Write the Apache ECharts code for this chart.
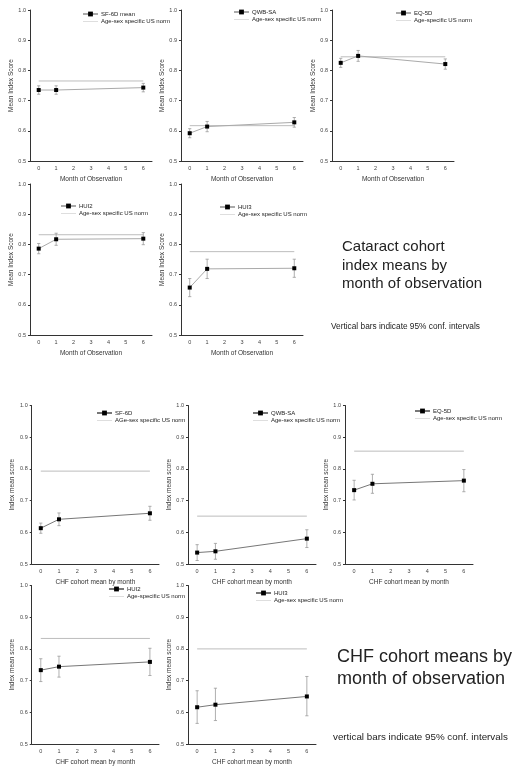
<!DOCTYPE html>
<html><head><meta charset="utf-8">
<script src="https://cdn.jsdelivr.net/npm/echarts@6/dist/echarts.min.js"></script>
<style>html,body{margin:0;padding:0;background:#fff;}#c{width:524px;height:772px;}</style>
</head><body><div id="c"></div>
<script>
// ---------- data ----------
const monthLabels = ['0', '1', '2', '3', '4', '5', '6'];
const obsMonths = ['0', '1', '6'];

// Cataract cohort
const catSF6DMean = [0.735, 0.735, 0.743];
const catSF6DLow  = [0.721, 0.721, 0.729];
const catSF6DHigh = [0.749, 0.749, 0.757];
const catSF6DNorm = 0.765;

const catQWBMean = [0.592, 0.614, 0.628];
const catQWBLow  = [0.577, 0.597, 0.612];
const catQWBHigh = [0.607, 0.631, 0.644];
const catQWBNorm = 0.617;

const catEQ5DMean = [0.825, 0.848, 0.821];
const catEQ5DLow  = [0.810, 0.830, 0.804];
const catEQ5DHigh = [0.840, 0.866, 0.838];
const catEQ5DNorm = 0.845;

const catHUI2Mean = [0.786, 0.817, 0.819];
const catHUI2Low  = [0.769, 0.797, 0.799];
const catHUI2High = [0.803, 0.837, 0.839];
const catHUI2Norm = 0.832;

const catHUI3Mean = [0.657, 0.719, 0.721];
const catHUI3Low  = [0.627, 0.687, 0.691];
const catHUI3High = [0.687, 0.751, 0.751];
const catHUI3Norm = 0.776;

// CHF cohort
const chfSF6DMean = [0.613, 0.641, 0.660];
const chfSF6DLow  = [0.597, 0.621, 0.638];
const chfSF6DHigh = [0.629, 0.661, 0.682];
const chfSF6DNorm = 0.793;

const chfQWBMean = [0.536, 0.540, 0.580];
const chfQWBLow  = [0.511, 0.515, 0.552];
const chfQWBHigh = [0.561, 0.565, 0.608];
const chfQWBNorm = 0.651;

const chfEQ5DMean = [0.733, 0.753, 0.763];
const chfEQ5DLow  = [0.702, 0.723, 0.728];
const chfEQ5DHigh = [0.764, 0.783, 0.798];
const chfEQ5DNorm = 0.856;

const chfHUI2Mean = [0.733, 0.744, 0.759];
const chfHUI2Low  = [0.697, 0.711, 0.716];
const chfHUI2High = [0.769, 0.777, 0.802];
const chfHUI2Norm = 0.833;

const chfHUI3Mean = [0.616, 0.624, 0.650];
const chfHUI3Low  = [0.565, 0.574, 0.589];
const chfHUI3High = [0.668, 0.676, 0.713];
const chfHUI3Norm = 0.800;

const yTickMin = 0.5, yTickMax = 1.0, yTickStep = 0.1;

// ---------- panels ----------
const panels = [
  {name:'SF-6D mean', norm:'Age-sex specific US norm', mean:catSF6DMean, low:catSF6DLow, high:catSF6DHigh, nv:catSF6DNorm, c:'cat'},
  {name:'QWB-SA', norm:'Age-sex specific US norm', mean:catQWBMean, low:catQWBLow, high:catQWBHigh, nv:catQWBNorm, c:'cat'},
  {name:'EQ-5D', norm:'Age-specific US norm', mean:catEQ5DMean, low:catEQ5DLow, high:catEQ5DHigh, nv:catEQ5DNorm, c:'cat'},
  {name:'HUI2', norm:'Age-sex specific US norm', mean:catHUI2Mean, low:catHUI2Low, high:catHUI2High, nv:catHUI2Norm, c:'cat'},
  {name:'HUI3', norm:'Age-sex specific US norm', mean:catHUI3Mean, low:catHUI3Low, high:catHUI3High, nv:catHUI3Norm, c:'cat'},
  {name:'SF-6D', norm:'AGe-sex specific US norm', mean:chfSF6DMean, low:chfSF6DLow, high:chfSF6DHigh, nv:chfSF6DNorm, c:'chf'},
  {name:'QWB-SA ', norm:'Age-sex specific US norm ', mean:chfQWBMean, low:chfQWBLow, high:chfQWBHigh, nv:chfQWBNorm, c:'chf'},
  {name:'EQ-5D ', norm:'Age-sex specific US norm  ', mean:chfEQ5DMean, low:chfEQ5DLow, high:chfEQ5DHigh, nv:chfEQ5DNorm, c:'chf'},
  {name:'HUI2 ', norm:'Age-specific US norm ', mean:chfHUI2Mean, low:chfHUI2Low, high:chfHUI2High, nv:chfHUI2Norm, c:'chf'},
  {name:'HUI3 ', norm:'Age-sex specific US norm   ', mean:chfHUI3Mean, low:chfHUI3Low, high:chfHUI3High, nv:chfHUI3Norm, c:'chf'}
];

const layouts = [
  {l:30,  t:10,    w:122, h:151,   lg:[82, 11]},
  {l:181, t:10,    w:122, h:151,   lg:[233, 9]},
  {l:332, t:10,    w:122, h:151,   lg:[395, 10]},
  {l:30,  t:184,   w:122, h:151,   lg:[60, 203]},
  {l:181, t:184,   w:122, h:151,   lg:[219, 204]},
  {l:31.7,t:405.5, w:127.3, h:158.5, lg:[96, 410]},
  {l:188, t:405.5, w:128, h:158.5, lg:[252, 410]},
  {l:345, t:405.5, w:128, h:158.5, lg:[414, 408]},
  {l:31.7,t:585.5, w:127.3, h:158.5, lg:[108, 586]},
  {l:188, t:585.5, w:128, h:158.5, lg:[255, 590]}
];

const FONT = 'Liberation Sans, Arial, Helvetica, sans-serif';
const NORM_COLOR = '#bdbdbd';
const grid = [], xAxis = [], yAxis = [], series = [], legend = [];

panels.forEach((p, i) => {
  const L = layouts[i];
  const cat = p.c === 'cat';
  grid.push({left:L.l, top:L.t, width:L.w, height:L.h, containLabel:false});
  xAxis.push({
    gridIndex:i, type:'category', data:monthLabels, boundaryGap:true,
    axisLine:{lineStyle:{color:'#333', width:1}},
    axisTick:{alignWithLabel:true, length:2, lineStyle:{color:'#333'}},
    axisLabel:{fontSize:5.5, color:'#444', margin:4, fontFamily:FONT},
    name: cat ? 'Month of Observation' : 'CHF cohort mean by month',
    nameLocation:'middle', nameGap:15,
    nameTextStyle:{fontSize:6.5, color:'#333', fontFamily:FONT}
  });
  yAxis.push({
    gridIndex:i, type:'value', min:yTickMin, max:yTickMax, interval:yTickStep,
    splitLine:{show:false},
    axisLine:{show:true, lineStyle:{color:'#333', width:1}},
    axisTick:{show:true, length:2, lineStyle:{color:'#333'}},
    axisLabel:{fontSize:5.5, color:'#444', margin:4, fontFamily:FONT, formatter:v => v.toFixed(1)},
    name: cat ? 'Mean Index Score' : 'Index mean score',
    nameLocation:'middle', nameGap: cat ? 15 : 14, nameRotate:90,
    nameTextStyle:{fontSize:6.5, color:'#333', fontFamily:FONT}
  });
  series.push({
    type:'custom', xAxisIndex:i, yAxisIndex:i, z:2, silent:true,
    data: obsMonths.map((m, k) => [m, p.low[k], p.high[k]]),
    renderItem: (params, api) => {
      const x = api.value(0);
      const a = api.coord([x, api.value(1)]);
      const b = api.coord([x, api.value(2)]);
      const cw = 1.6;
      const st = {stroke:'#9a9a9a', lineWidth:0.8};
      return {type:'group', children:[
        {type:'line', shape:{x1:a[0], y1:a[1], x2:b[0], y2:b[1]}, style:st},
        {type:'line', shape:{x1:a[0]-cw, y1:a[1], x2:a[0]+cw, y2:a[1]}, style:st},
        {type:'line', shape:{x1:b[0]-cw, y1:b[1], x2:b[0]+cw, y2:b[1]}, style:st}
      ]};
    }
  });
  series.push({
    name:p.norm, type:'line', xAxisIndex:i, yAxisIndex:i, z:1,
    data:[[obsMonths[0], p.nv], [obsMonths[obsMonths.length-1], p.nv]],
    symbol:'none', lineStyle:{color:NORM_COLOR, width:1}, itemStyle:{color:NORM_COLOR}
  });
  series.push({
    name:p.name, type:'line', xAxisIndex:i, yAxisIndex:i, z:3,
    data: obsMonths.map((m, k) => [m, p.mean[k]]),
    symbol:'rect', symbolSize:4, showSymbol:true,
    itemStyle:{color:'#000'},
    lineStyle:{color: cat ? '#aaaaaa' : '#777777', width:1}
  });
  legend.push({
    left:L.lg[0], top:L.lg[1], orient:'vertical', padding:0, itemGap:1.5,
    itemWidth:15, itemHeight:6, selectedMode:false, symbolKeepAspect:true,
    textStyle:{fontSize:6, color:'#222', fontFamily:FONT, padding:[0,0,0,-2]},
    data:[
      {name:p.name},
      {name:p.norm, icon:'path://M0,0H30V1H0Z', itemStyle:{color:NORM_COLOR}}
    ]
  });
});

const graphic = [
  {type:'text', left:342, top:238, style:{text:'Cataract cohort\nindex means by\nmonth of observation', fontSize:15, lineHeight:18.5, fill:'#222', fontFamily:FONT}},
  {type:'text', left:331, top:323, style:{text:'Vertical bars indicate 95% conf. intervals', fontSize:8.3, fill:'#222', fontFamily:FONT}},
  {type:'text', left:337, top:646, style:{text:'CHF cohort means by\nmonth of observation', fontSize:18, lineHeight:22, fill:'#222', fontFamily:FONT}},
  {type:'text', left:333, top:732, style:{text:'vertical bars indicate 95% conf. intervals', fontSize:9.8, fill:'#222', fontFamily:FONT}}
];

const chart = echarts.init(document.getElementById('c'), null, {renderer:'canvas'});
chart.setOption({animation:false, backgroundColor:'#fff', grid, xAxis, yAxis, series, legend, graphic});
</script>
</body></html>
